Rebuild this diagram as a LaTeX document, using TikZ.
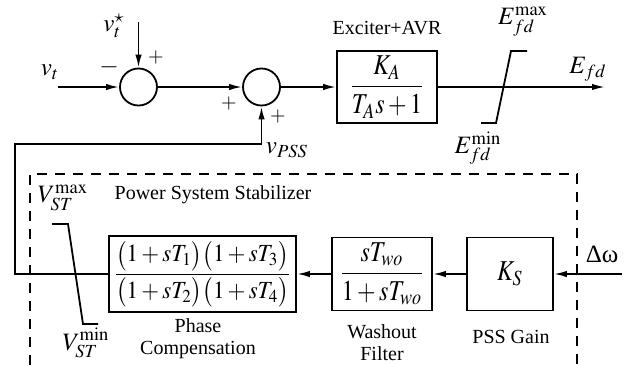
\documentclass[tikz,border=0pt]{standalone}
\usepackage{amsmath}
\usepackage{graphicx}
\usepackage{mathptmx}
\usepackage[no-math]{fontspec}
\setmainfont{Liberation Serif}
\usetikzlibrary{arrows.meta,positioning}
\newcommand{\tf}[2][1.2]{\scalebox{1}[#1]{$\displaystyle #2$}}

\begin{document}
\begin{tikzpicture}[x=0.5pt,y=-0.5pt,
  blk/.style={draw,line width=0.9pt,inner sep=0pt,font=\fontsize{12}{14}\selectfont},
  sumc/.style={draw,circle,line width=0.9pt,minimum size=18.5pt,inner sep=0pt},
  arr/.style={-{Latex[length=6.5pt,width=3.2pt]},line width=0.9pt},
  ln/.style={line width=0.9pt},
  pssbox/.style={dash pattern=on 5pt off 4pt,line width=0.6pt},
  mlbl/.style={font=\fontsize{12.5}{14}\selectfont,inner sep=1pt},
  tlbl/.style={font=\fontsize{10}{11}\selectfont,align=center,inner sep=1pt}]
\useasboundingbox (0,0) rectangle (640,365);
% voltage regulator loop
\node[sumc] (sum1) at (138.5,87) {};
\node[sumc] (sum2) at (261.5,87) {};
\node[blk,minimum width=50pt,minimum height=36pt] (exc) at (387,87) {\tf{\frac{K_A}{T_A s+1}}};
\coordinate (vtin) at (58,87);
\coordinate (vref) at (138.5,22);
\coordinate (efd) at (605,87);
\draw[arr] (vtin) -- (sum1.west);
\draw[arr] (vref) -- (sum1.north);
\draw[arr] (sum1.east) -- (sum2.west);
\draw[arr] (sum2.east) -- (exc.west);
\draw[arr] (exc.east) -- (efd);
\draw[ln] (481,123) -- (496,123) -- (511,51) -- (527,51);
\node[mlbl] (vtl) at (50,72) {$v_t$};
\node[mlbl] (vrefl) at (114,26) {$v_t^{\star}$};
\node[mlbl] (minus) at (109,67) {$-$};
\node[tlbl] (plus1) at (156,57) {$+$};
\node[tlbl] (plus2) at (229,103) {$+$};
\node[tlbl] (plus3) at (278,116) {$+$};
\node[tlbl] (excl) at (387,28) {Exciter+AVR};
\node[mlbl] (efdl) at (588,69) {$E_{fd}$};
\node[mlbl] (emax) at (523,22) {$E_{fd}^{\max}$};
\node[mlbl] (emin) at (478,148) {$E_{fd}^{\min}$};
\node[mlbl] (vpss) at (287,150) {$v_{PSS}$};
% power system stabilizer
\draw[pssbox] (30,365) |- (577,174) -- (577,365);
\node[tlbl] (pssl) at (213,195) {Power System Stabilizer};
\node[blk,minimum width=93.5pt,minimum height=38pt,font=\fontsize{11.5}{13}\selectfont] (phase) at (202.5,274)
  {\tf[1.07]{\frac{\bigl(1+sT_1\bigr)\bigl(1+sT_3\bigr)}{\bigl(1+sT_2\bigr)\bigl(1+sT_4\bigr)}}};
\node[blk,minimum width=50pt,minimum height=36.5pt] (wash) at (382,274) {\tf{\frac{sT_{wo}}{1+sT_{wo}}}};
\node[blk,minimum width=43pt,minimum height=36.5pt] (gain) at (510,274) {\tf{K_S}};
\coordinate (dwin) at (622,274);
\coordinate (fbc) at (15,144);
\draw[arr] (dwin) -- (gain.east);
\draw[arr] (gain.west) -- (wash.east);
\draw[arr] (wash.west) -- (phase.east);
\draw[arr] (phase.west) -| (fbc) -| (sum2.south);
\draw[ln] (52,224) -- (68,224) -- (83,324) -- (98,324);
\node[mlbl] (vmax) at (63,198) {$V_{ST}^{\max}$};
\node[mlbl] (vmin) at (86,343) {$V_{ST}^{\min}$};
\node[tlbl] (phasel) at (198,339) {Phase\\Compensation};
\node[tlbl] (washl) at (382,343) {Washout\\Filter};
\node[tlbl] (gainl) at (511,337) {PSS Gain};
\node[mlbl] (dwl) at (602,254) {Δω};
\end{tikzpicture}
\end{document}
